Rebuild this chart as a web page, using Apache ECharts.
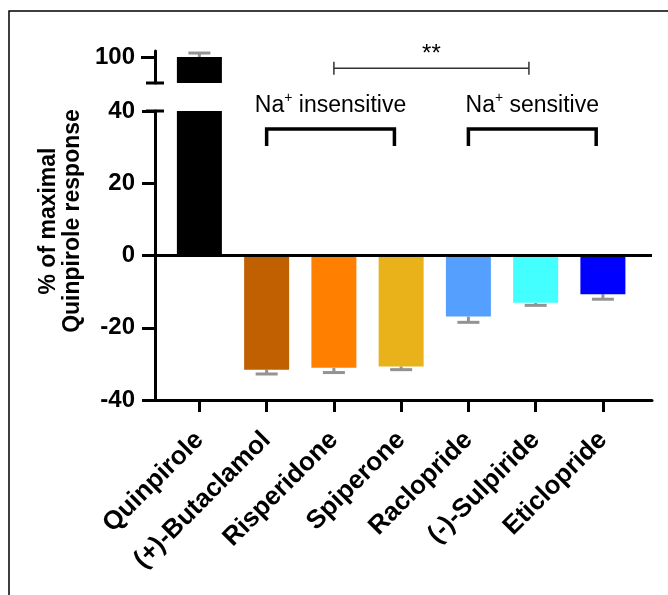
<!DOCTYPE html>
<html><head><meta charset="utf-8">
<script src="https://cdn.jsdelivr.net/npm/echarts@6/dist/echarts.min.js"></script>
<style>html,body{margin:0;padding:0;background:#fff}#c{width:668px;height:595px}</style>
</head><body><div id="c"></div>
<script>
// ---- data ----
const categories = ['Quinpirole', '(+)-Butaclamol', 'Risperidone', 'Spiperone', 'Raclopride', '(-)-Sulpiride', 'Eticlopride'];
const responses = [100, -31.6, -31.1, -30.7, -16.9, -13.1, -10.7];
const errors = [1.1, 1.2, 1.3, 0.9, 1.6, 0.7, 1.4];
const upperTickValues = [100];
const lowerTickValues = [-40, -20, 0, 20, 40];
const groupNames = ['insensitive', 'sensitive'];
const groupSpans = [[1, 2.9], [4, 5.9]];
const sigSpan = [2, 4.9];
const sigLabel = '**';
const barColors = ['#000000', '#C06000', '#FF8000', '#E9B21A', '#559FFF', '#44FFFF', '#0000FF'];

const FONT = '"Liberation Sans", Arial, Helvetica, sans-serif';
const xMin = -0.66, xMax = 6.73;
const upMin = 92.8, upMax = 101.66;

const chart = echarts.init(document.getElementById('c'), null, {renderer: 'canvas'});

function bars(i, withZero) {
  const s = {
    type: 'bar', xAxisIndex: i, yAxisIndex: i, barWidth: 45, clip: true, z: 3,
    data: responses.map((v, k) => ({value: [k, v], itemStyle: {color: barColors[k]}})),
    animation: false
  };
  if (withZero) {
    s.markLine = {
      silent: true, symbol: 'none', label: {show: false},
      lineStyle: {color: '#000', width: 3, type: 'solid'},
      data: [{yAxis: 0}], animation: false
    };
  }
  return s;
}
function errs(i) {
  return {
    type: 'custom', xAxisIndex: i, yAxisIndex: i, clip: true, z: 2, animation: false,
    data: responses.map((v, k) => [k, v, errors[k]]),
    renderItem(params, api) {
      const k = api.value(0), v = api.value(1), e = api.value(2);
      const end = v >= 0 ? v + e : v - e;
      const p0 = api.coord([k, v]), p1 = api.coord([k, end]);
      const st = {stroke: '#939393', lineWidth: 3};
      return {type: 'group', children: [
        {type: 'line', shape: {x1: p0[0], y1: p0[1], x2: p1[0], y2: p1[1]}, style: st},
        {type: 'line', shape: {x1: p1[0] - 11, y1: p1[1], x2: p1[0] + 11, y2: p1[1]}, style: st}
      ]};
    }
  };
}
const rich = {
  a: {fontFamily: FONT, fontSize: 23, color: '#000', lineHeight: 26, verticalAlign: 'bottom'},
  b: {fontFamily: FONT, fontSize: 14, color: '#000', lineHeight: 26, verticalAlign: 'top'}
};
const groupSeries = {
  type: 'custom', xAxisIndex: 1, yAxisIndex: 1, clip: false, z: 5, animation: false, silent: true,
  data: groupSpans.map((s, k) => [s[0], s[1], k]),
  renderItem(params, api) {
    const a = api.value(0), b = api.value(1), k = api.value(2);
    const pTopL = api.coord([a, 35.0]), pTopR = api.coord([b, 35.0]);
    const pLegL = api.coord([a, 30.3]), pLegR = api.coord([b, 30.3]);
    const mid = (pTopL[0] + pTopR[0]) / 2;
    return {type: 'group', children: [
      {type: 'polyline', shape: {points: [pLegL, pTopL, pTopR, pLegR]}, style: {stroke: '#000', lineWidth: 3.5, fill: null}},
      {type: 'text', x: mid, y: pTopL[1] - 25, style: {
        text: '{a|Na}{b|+}{a| ' + groupNames[k] + '}', rich: rich, align: 'center', verticalAlign: 'middle'}}
    ]};
  }
};
const sigSeries = {
  type: 'custom', xAxisIndex: 0, yAxisIndex: 0, clip: false, z: 5, animation: false, silent: true,
  data: [[sigSpan[0], sigSpan[1]]],
  renderItem(params, api) {
    const p0 = api.coord([api.value(0), 96.9]), p1 = api.coord([api.value(1), 96.9]);
    const st = {stroke: '#333', lineWidth: 1.5};
    return {type: 'group', children: [
      {type: 'line', shape: {x1: p0[0], y1: p0[1], x2: p1[0], y2: p1[1]}, style: st},
      {type: 'line', shape: {x1: p0[0], y1: p0[1] - 6.5, x2: p0[0], y2: p0[1] + 6.5}, style: st},
      {type: 'line', shape: {x1: p1[0], y1: p1[1] - 6.5, x2: p1[0], y2: p1[1] + 6.5}, style: st},
      {type: 'text', x: (p0[0] + p1[0]) / 2, y: p0[1] - 14, style: {
        text: sigLabel, fontFamily: FONT, fontSize: 24, fill: '#000', align: 'center', verticalAlign: 'middle'}}
    ]};
  }
};

const axisLineStyle = {show: true, onZero: false, lineStyle: {color: '#000', width: 3}};
const option = {
  animation: false,
  backgroundColor: '#fff',
  grid: [
    {left: 155, top: 51, width: 497, height: 32},
    {left: 155, top: 111, width: 497, height: 289}
  ],
  xAxis: [
    {gridIndex: 0, type: 'value', min: xMin, max: xMax, show: false},
    {gridIndex: 1, type: 'value', min: xMin, max: xMax, position: 'bottom',
     axisLine: axisLineStyle, splitLine: {show: false},
     axisTick: {show: true, customValues: categories.map((c, k) => k), length: 12, lineStyle: {color: '#000', width: 3}},
     axisLabel: {show: true, customValues: categories.map((c, k) => k), rotate: 45, margin: 36,
       formatter: v => categories[Math.round(v)], fontFamily: FONT, fontWeight: 'bold', fontSize: 26, color: '#000'}}
  ],
  yAxis: [
    {gridIndex: 0, type: 'value', min: upMin, max: upMax, axisLine: axisLineStyle, splitLine: {show: false},
     axisTick: {show: true, customValues: upperTickValues, length: 14, lineStyle: {color: '#000', width: 3}},
     axisLabel: {show: true, customValues: upperTickValues, margin: 20, fontFamily: FONT, fontWeight: 'bold', fontSize: 24, color: '#000'}},
    {gridIndex: 1, type: 'value', min: lowerTickValues[0], max: lowerTickValues[lowerTickValues.length - 1], interval: 20,
     axisLine: axisLineStyle, splitLine: {show: false},
     axisTick: {show: true, length: 13, lineStyle: {color: '#000', width: 3}},
     axisLabel: {show: true, margin: 20, fontFamily: FONT, fontWeight: 'bold', fontSize: 24, color: '#000'}}
  ],
  series: [bars(0, false), errs(0), bars(1, true), errs(1), groupSeries, sigSeries]
};
chart.setOption(option);

// decorations: axis break marks, y-axis title, frame
const upBottom = chart.convertToPixel({xAxisIndex: 0, yAxisIndex: 0}, [xMin, upMin]);
const lowTop = chart.convertToPixel({xAxisIndex: 1, yAxisIndex: 1}, [xMin, lowerTickValues[lowerTickValues.length - 1]]);
const brk = {stroke: '#000', lineWidth: 3};
chart.setOption({
  graphic: [
    {type: 'polyline', shape: {points: [[9, 600], [9, 11], [670, 11]]}, style: {stroke: '#000', lineWidth: 1.5, fill: null}, silent: true},
    {type: 'line', shape: {x1: upBottom[0] - 9, y1: upBottom[1], x2: upBottom[0] + 9, y2: upBottom[1]}, style: brk, silent: true},
    {type: 'line', shape: {x1: lowTop[0] - 9, y1: lowTop[1], x2: lowTop[0] + 9, y2: lowTop[1]}, style: brk, silent: true},
    {type: 'text', x: 61, y: 221, rotation: Math.PI / 2, silent: true,
     style: {text: '% of maximal\nQuinpirole response', fontFamily: FONT, fontWeight: 'bold', fontSize: 23, lineHeight: 24,
       fill: '#000', align: 'center', verticalAlign: 'middle'}}
  ]
});
</script>
</body></html>
